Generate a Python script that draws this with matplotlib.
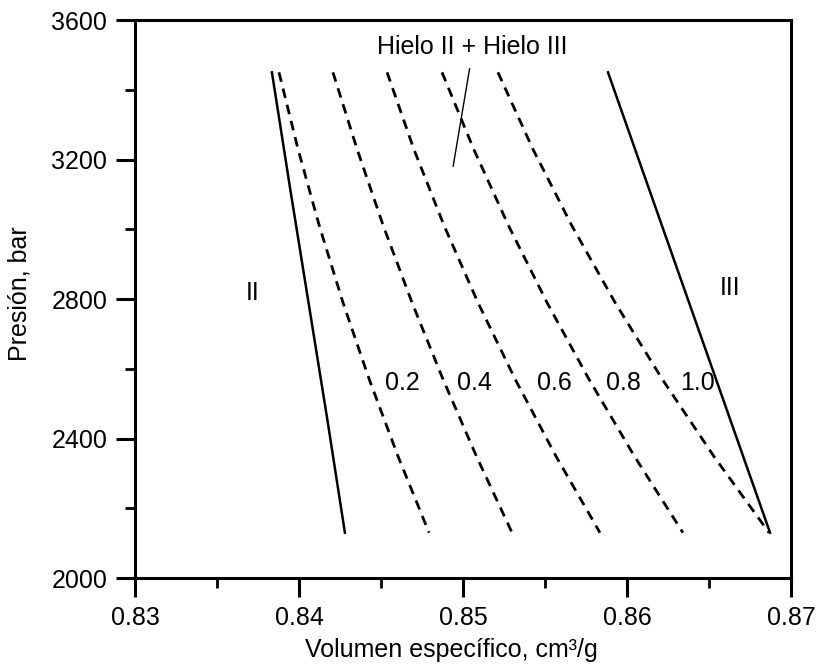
import matplotlib
matplotlib.use("Agg")
import matplotlib.pyplot as plt
from matplotlib.ticker import MultipleLocator

plt.rcParams['font.family'] = ['Liberation Sans', 'DejaVu Sans']

# -----------------------------
# Daten (Volumen cm3/g, Druck bar)
# -----------------------------

# Hielo II (Grenzlinie links)
v_hielo2 = [0.83835, 0.83945, 0.84058, 0.84171, 0.84280]
p_hielo2 = [3450, 3120, 2790, 2460, 2130]

# Hielo III (Grenzlinie rechts)
v_hielo3 = [0.85884, 0.86378, 0.86872]
p_hielo3 = [3450, 2790, 2130]

# Isolinien (gestrichelt), gemeinsame Druckstufen
p_iso = [3450, 3230, 3010, 2790, 2570, 2350, 2130]
v_020 = [0.83878, 0.83994, 0.84124, 0.84268, 0.84428, 0.84603, 0.84793]
v_040 = [0.84207, 0.84354, 0.84514, 0.84689, 0.84878, 0.85081, 0.85299]
v_060 = [0.84537, 0.84700, 0.84885, 0.85091, 0.85318, 0.85566, 0.85835]
v_080 = [0.84872, 0.85065, 0.85278, 0.85512, 0.85768, 0.86044, 0.86341]
v_100 = [0.85213, 0.85426, 0.85664, 0.85927, 0.86215, 0.86528, 0.86866]

isolinien = [v_020, v_040, v_060, v_080, v_100]

# Beschriftungen der Isolinien
iso_texte = ["0.2", "0.4", "0.6", "0.8", "1.0"]
iso_text_v = [0.8463, 0.8507, 0.8556, 0.8598, 0.8643]
iso_text_p = 2559

# Hinweislinie zu "Hielo II + Hielo III"
v_hinweis = [0.8504, 0.8494]
p_hinweis = [3460, 3181]

x_ticks = [0.83, 0.84, 0.85, 0.86, 0.87]
y_ticks = [2000, 2400, 2800, 3200, 3600]

# -----------------------------
# Diagramm
# -----------------------------

fig = plt.figure(figsize=(8.21, 6.68), dpi=100)
ax = fig.add_axes([0.1644, 0.1347, 0.7991, 0.8353])

ax.plot(v_hielo2, p_hielo2, color="black", lw=1.8)
ax.plot(v_hielo3, p_hielo3, color="black", lw=1.8)

for v in isolinien:
    ax.plot(v, p_iso, color="black", lw=2.0, ls=(0, (3.5, 2.5)))

for txt, v in zip(iso_texte, iso_text_v):
    ax.text(v, iso_text_p, txt, fontsize=18, ha="center", va="center")

ax.plot(v_hinweis, p_hinweis, color="black", lw=1.0)
ax.text(0.85055, 3523, "Hielo II + Hielo III", fontsize=18,
        ha="center", va="center")

ax.text(0.8372, 2817, "II", fontsize=18, ha="center", va="center")
ax.text(0.8663, 2832, "III", fontsize=18, ha="center", va="center")

ax.set_xlim(0.83, 0.87)
ax.set_ylim(2000, 3600)
ax.set_xticks(x_ticks)
ax.set_yticks(y_ticks)
ax.set_xticklabels([f"{t:.2f}" for t in x_ticks])
ax.set_yticklabels([str(t) for t in y_ticks])
ax.xaxis.set_minor_locator(MultipleLocator(0.005))
ax.yaxis.set_minor_locator(MultipleLocator(200))

ax.tick_params(which="major", direction="out", length=14, width=2.2,
               labelsize=18, pad=6)
ax.tick_params(which="minor", direction="out", length=7, width=2.0)
ax.tick_params(top=False, right=False, which="both")

for s in ax.spines.values():
    s.set_linewidth(2.2)

ax.set_xlabel("Volumen específico, cm³/g", fontsize=18)
ax.set_ylabel("Presión, bar", fontsize=18)
ax.xaxis.set_label_coords(0.483, -0.108)
ax.yaxis.set_label_coords(-0.157, 0.509)

fig.savefig("out.png", dpi=100)
